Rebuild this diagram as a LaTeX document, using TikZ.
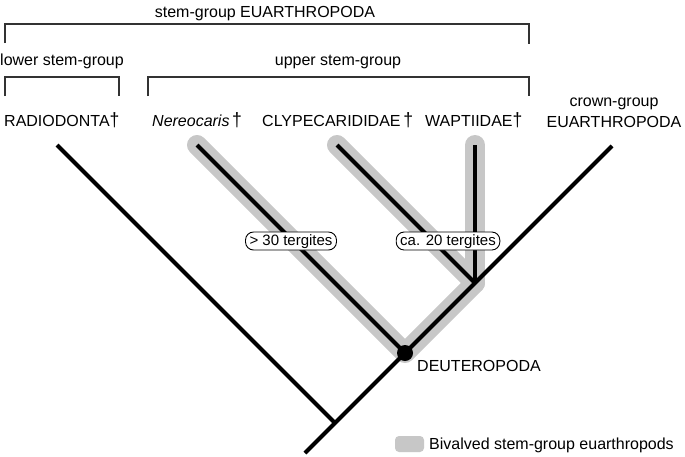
\documentclass[tikz,border=0pt]{standalone}
\usepackage{fontspec}
\setmainfont{Liberation Sans}
\newcommand{\dg}{\,\scalebox{1.1}[1.2]{†}}
\begin{document}
\begin{tikzpicture}[x=1pt,y=-1pt,
  lbl/.style={inner sep=0pt,font=\fontsize{16}{19}\selectfont},
  brk/.style={line width=1.3pt,color=black!80},
  branch/.style={line width=4pt,black},
  halo/.style={line width=20pt,color=black!22,line cap=round,line join=round},
  tbox/.style={draw=black,line width=0.9pt,fill=white,rounded corners=8pt,
    font=\fontsize{15}{17}\selectfont,inner xsep=4pt,inner ysep=2pt,
    text height=11pt,text depth=3pt}]
\useasboundingbox (0,0) rectangle (685,456);
\fill[white] (0,0) rectangle (685,456);
% brackets
\draw[brk] (5,43) -- (5,24) -- (529,24) -- (529,44);
\draw[brk] (5,96) -- (5,77) -- (119,77) -- (119,96);
\draw[brk] (148,96) -- (148,77) -- (529,77) -- (529,96);
% header labels
\node[lbl,anchor=base] (stem) at (265,17) {stem-group EUARTHROPODA};
\node[lbl,anchor=base] (lower) at (62,65) {lower stem-group};
\node[lbl,anchor=base] (upper) at (338,65) {upper stem-group};
% taxa
\node[lbl,anchor=base west] (rad) at (4,126) {RADIODONTA\scalebox{1.1}[1.2]{†}};
\node[lbl,anchor=base west] (ner) at (152,126) {\textit{Nereocaris}\dg};
\node[lbl,anchor=base west] (cly) at (262,126) {CLYPECARIDIDAE\dg};
\node[lbl,anchor=base west] (wap) at (425,126) {WAPTIIDAE\scalebox{1.1}[1.2]{†}};
\node[lbl,anchor=base] (crown1) at (614,106) {crown-group};
\node[lbl,anchor=base] (crown2) at (614,127) {EUARTHROPODA};
% tree points
\coordinate (R) at (57,145);
\coordinate (J0) at (335,423);
\coordinate (B) at (305,453);
\coordinate (C) at (612,146);
\coordinate (D) at (405,353);
\coordinate (N) at (197,145);
\coordinate (J2) at (475,283);
\coordinate (K) at (337,145);
\coordinate (W) at (475,145);
% gray highlight
\draw[halo] (N) -- (D) -- (J2) -- (K);
\draw[halo] (J2) -- (W);
% branches
\draw[branch] (R) -- (J0);
\draw[branch] (B) -- (C);
\draw[branch] (N) -- (D);
\draw[branch] (K) -- (J2);
\draw[branch] (W) -- (J2);
\fill (D) circle (8);
\node[lbl,anchor=base west] (deut) at (417,371) {DEUTEROPODA};
% tergite boxes
\node[tbox] (t30) at (291,241) {> 30 tergites};
\node[tbox] (t20) at (448,241) {ca. 20 tergites};
% legend
\fill[black!22,rounded corners=4pt] (395,436) rectangle (424,452);
\node[lbl,anchor=base west] (leg) at (429,449) {Bivalved stem-group euarthropods};
\end{tikzpicture}
\end{document}
